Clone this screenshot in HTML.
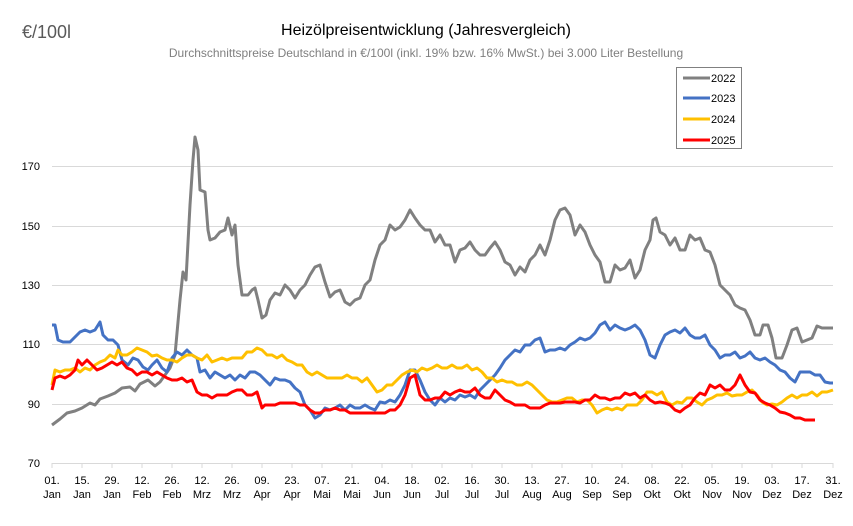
<!DOCTYPE html>
<html><head><meta charset="utf-8"><style>
body{margin:0;background:#fff;}
text{font-family:"Liberation Sans",sans-serif;}
</style></head><body>
<svg width="853" height="521" viewBox="0 0 853 521" xmlns="http://www.w3.org/2000/svg">
<rect width="853" height="521" fill="#fff"/>
<text x="22" y="38" font-size="18" fill="#595959">€/100l</text>
<text x="426" y="35" font-size="16" fill="#000" text-anchor="middle">Heizölpreisentwicklung (Jahresvergleich)</text>
<text x="426" y="57" font-size="12" fill="#7f7f7f" text-anchor="middle">Durchschnittspreise Deutschland in €/100l (inkl. 19% bzw. 16%  MwSt.) bei 3.000 Liter Bestellung</text>
<g stroke="#d9d9d9" stroke-width="1">
<line x1="52" y1="166.5" x2="833" y2="166.5"/>
<line x1="52" y1="226.5" x2="833" y2="226.5"/>
<line x1="52" y1="285.5" x2="833" y2="285.5"/>
<line x1="52" y1="344.5" x2="833" y2="344.5"/>
<line x1="52" y1="404.5" x2="833" y2="404.5"/>
<line x1="52" y1="463.5" x2="833" y2="463.5"/>
</g>
<g stroke="#d9d9d9">
<line x1="52" y1="463" x2="52" y2="468"/><line x1="82" y1="463" x2="82" y2="468"/><line x1="112" y1="463" x2="112" y2="468"/><line x1="142" y1="463" x2="142" y2="468"/><line x1="172" y1="463" x2="172" y2="468"/><line x1="202" y1="463" x2="202" y2="468"/><line x1="232" y1="463" x2="232" y2="468"/><line x1="262" y1="463" x2="262" y2="468"/><line x1="292" y1="463" x2="292" y2="468"/><line x1="322" y1="463" x2="322" y2="468"/><line x1="352" y1="463" x2="352" y2="468"/><line x1="382" y1="463" x2="382" y2="468"/><line x1="412" y1="463" x2="412" y2="468"/><line x1="442" y1="463" x2="442" y2="468"/><line x1="472" y1="463" x2="472" y2="468"/><line x1="502" y1="463" x2="502" y2="468"/><line x1="532" y1="463" x2="532" y2="468"/><line x1="562" y1="463" x2="562" y2="468"/><line x1="592" y1="463" x2="592" y2="468"/><line x1="622" y1="463" x2="622" y2="468"/><line x1="652" y1="463" x2="652" y2="468"/><line x1="682" y1="463" x2="682" y2="468"/><line x1="712" y1="463" x2="712" y2="468"/><line x1="742" y1="463" x2="742" y2="468"/><line x1="772" y1="463" x2="772" y2="468"/><line x1="802" y1="463" x2="802" y2="468"/><line x1="833" y1="463" x2="833" y2="468"/>
</g>
<g font-size="11" fill="#000" text-anchor="end">
<text x="40" y="170">170</text><text x="40" y="230">150</text><text x="40" y="289">130</text><text x="40" y="348">110</text><text x="40" y="408">90</text><text x="40" y="467">70</text>
</g>
<g font-size="11" fill="#000" text-anchor="middle">
<text x="52" y="484">01.</text><text x="52" y="498">Jan</text>
<text x="82" y="484">15.</text><text x="82" y="498">Jan</text>
<text x="112" y="484">29.</text><text x="112" y="498">Jan</text>
<text x="142" y="484">12.</text><text x="142" y="498">Feb</text>
<text x="172" y="484">26.</text><text x="172" y="498">Feb</text>
<text x="202" y="484">12.</text><text x="202" y="498">Mrz</text>
<text x="232" y="484">26.</text><text x="232" y="498">Mrz</text>
<text x="262" y="484">09.</text><text x="262" y="498">Apr</text>
<text x="292" y="484">23.</text><text x="292" y="498">Apr</text>
<text x="322" y="484">07.</text><text x="322" y="498">Mai</text>
<text x="352" y="484">21.</text><text x="352" y="498">Mai</text>
<text x="382" y="484">04.</text><text x="382" y="498">Jun</text>
<text x="412" y="484">18.</text><text x="412" y="498">Jun</text>
<text x="442" y="484">02.</text><text x="442" y="498">Jul</text>
<text x="472" y="484">16.</text><text x="472" y="498">Jul</text>
<text x="502" y="484">30.</text><text x="502" y="498">Jul</text>
<text x="532" y="484">13.</text><text x="532" y="498">Aug</text>
<text x="562" y="484">27.</text><text x="562" y="498">Aug</text>
<text x="592" y="484">10.</text><text x="592" y="498">Sep</text>
<text x="622" y="484">24.</text><text x="622" y="498">Sep</text>
<text x="652" y="484">08.</text><text x="652" y="498">Okt</text>
<text x="682" y="484">22.</text><text x="682" y="498">Okt</text>
<text x="712" y="484">05.</text><text x="712" y="498">Nov</text>
<text x="742" y="484">19.</text><text x="742" y="498">Nov</text>
<text x="772" y="484">03.</text><text x="772" y="498">Dez</text>
<text x="802" y="484">17.</text><text x="802" y="498">Dez</text>
<text x="833" y="484">31.</text><text x="833" y="498">Dez</text>
</g>
<g fill="none" stroke-width="3" stroke-linejoin="round">
<polyline stroke="#808080" points="52,425 60,419 67,413 75,411 82,408 90,403 95,405 100,399 108,396 115,393 122,388 130,387 135,391 140,384 148,380 155,386 160,382 165,375 170,368 175,355 180,300 183,272 186,280 190,205 193,160 195,137 198,150 200,190 205,192 208,230 210,240 215,238 220,232 225,230 228,218 232,235 235,225 238,265 242,295 248,295 252,290 255,288 258,300 262,318 266,315 270,300 275,293 280,295 285,285 290,290 295,298 300,290 305,285 310,275 315,267 320,265 325,282 330,297 335,292 340,290 345,302 350,305 355,300 360,298 365,285 370,280 375,260 380,245 385,240 390,225 395,230 400,227 405,220 410,210 415,218 420,225 425,230 430,230 435,242 440,235 445,245 450,245 455,262 460,250 465,248 470,242 475,250 480,255 485,255 490,248 495,242 500,250 505,262 510,265 515,275 520,267 525,272 530,260 535,255 540,245 545,255 550,240 555,220 560,210 565,208 570,215 575,235 580,225 585,232 590,245 595,255 600,262 605,282 610,282 615,265 620,270 625,268 630,260 635,278 640,270 645,250 650,240 653,220 656,218 660,232 665,235 670,245 675,238 680,250 685,250 690,235 695,240 700,238 705,250 710,252 715,265 720,285 725,290 730,295 735,305 740,308 745,310 750,320 755,335 760,335 763,325 768,325 772,338 776,358 782,358 787,345 792,330 797,328 802,342 807,340 812,338 817,326 822,328 827,328 833,328"/>
<polyline stroke="#4472c4" points="52,325 55,325 58,340 63,342 70,342 75,337 80,332 85,330 90,332 95,330 100,322 103,335 108,340 113,340 118,345 122,360 128,365 133,358 138,360 143,367 148,370 152,365 157,360 162,368 167,372 172,358 177,352 182,355 187,350 192,355 197,358 200,372 205,370 210,378 215,372 220,375 225,378 230,375 235,380 240,375 245,378 250,372 255,372 260,375 265,380 270,385 275,378 280,380 285,380 290,382 295,388 300,392 305,405 310,410 315,418 320,415 325,408 330,410 335,408 340,405 345,410 350,405 355,408 360,408 365,405 370,408 375,410 380,402 385,403 390,400 395,402 400,395 405,385 410,370 415,370 420,380 425,392 430,400 435,405 440,398 445,402 450,398 455,400 460,395 465,397 470,395 475,398 480,390 485,385 490,380 495,375 500,368 505,360 510,355 515,350 520,352 525,345 530,345 535,340 540,338 545,352 550,350 555,350 560,348 565,350 570,345 575,342 580,338 585,340 590,338 595,333 600,325 605,322 610,330 615,325 620,328 625,330 630,328 635,325 640,330 645,340 650,355 655,358 660,345 665,335 670,332 675,330 680,333 685,328 690,335 695,338 700,338 705,335 710,345 715,350 720,358 725,355 730,355 735,352 740,358 745,356 750,352 755,358 760,360 765,358 770,362 775,365 780,370 785,372 790,378 795,382 800,372 805,372 810,372 815,375 820,375 825,382 830,383 833,383"/>
<polyline stroke="#ffc000" points="52,385 55,370 60,372 65,370 70,370 75,368 80,372 85,368 90,370 95,365 100,362 105,360 110,355 115,358 118,350 122,355 127,355 132,352 137,348 142,350 147,352 152,356 157,355 162,358 167,360 172,360 177,362 182,358 187,355 192,355 197,358 202,360 207,355 212,362 217,360 222,358 227,360 232,358 237,358 242,358 247,352 252,352 257,348 262,350 267,355 272,355 277,358 282,355 287,360 292,362 297,365 302,365 307,372 312,375 317,372 322,375 327,378 332,378 337,378 342,378 347,375 352,378 357,378 362,382 367,378 372,385 377,392 382,390 387,385 392,385 397,380 402,375 407,372 412,370 417,372 422,368 427,370 432,368 437,365 442,368 447,368 452,365 457,368 462,368 467,365 472,370 477,368 482,372 487,378 492,378 497,382 502,380 507,382 512,382 517,385 522,385 527,382 532,385 537,390 542,395 547,400 552,402 557,402 562,400 567,398 572,398 577,402 582,400 587,400 592,405 597,413 602,410 607,408 612,410 617,408 622,410 627,405 632,405 637,405 642,400 647,392 652,392 657,395 662,392 667,402 672,405 677,402 682,403 687,398 692,398 697,402 702,405 707,400 712,398 717,395 722,395 727,393 732,396 737,395 742,395 747,392 752,390 757,395 762,402 767,405 772,404 777,405 782,402 787,398 792,395 797,398 802,395 807,395 812,392 817,396 822,392 827,392 833,390"/>
<polyline stroke="#ff0000" points="52,390 55,378 60,376 65,378 70,375 75,370 78,360 82,365 87,360 92,365 97,370 102,368 107,365 112,362 117,365 122,362 127,368 132,370 137,375 142,372 147,372 152,375 157,372 162,375 167,378 172,380 177,380 182,378 187,382 192,380 197,392 202,395 207,395 212,398 217,395 222,395 227,395 232,392 237,390 242,390 247,395 252,395 257,392 262,408 265,405 270,405 275,405 280,403 285,403 290,403 295,403 300,405 305,405 310,410 315,413 320,413 325,410 330,410 335,408 340,410 345,410 350,413 355,413 360,413 365,413 370,413 375,413 380,413 385,413 390,410 395,410 400,405 405,395 410,378 415,375 420,395 425,400 430,400 435,398 440,398 445,392 450,395 455,392 460,390 465,392 470,392 475,388 480,395 485,398 490,398 495,390 500,395 505,400 510,402 515,405 520,405 525,405 530,408 535,408 540,408 545,405 550,403 555,403 560,403 565,402 570,402 575,402 580,403 585,400 590,400 595,395 600,398 605,398 610,400 615,398 620,398 625,393 630,395 635,393 640,398 645,395 650,400 655,403 660,402 665,403 670,405 675,410 680,412 685,408 690,405 695,398 700,393 705,395 710,385 715,388 720,385 725,390 730,390 735,385 740,375 745,385 750,392 755,393 760,400 765,403 770,405 775,408 780,412 785,413 790,415 795,418 800,418 805,420 810,420 815,420"/>
</g>
<rect x="676.5" y="67.5" width="65" height="81" fill="#fff" stroke="#808080"/>
<g stroke-width="3">
<line x1="683" y1="78" x2="710" y2="78" stroke="#808080"/>
<line x1="683" y1="98" x2="710" y2="98" stroke="#4472c4"/>
<line x1="683" y1="119" x2="710" y2="119" stroke="#ffc000"/>
<line x1="683" y1="140" x2="710" y2="140" stroke="#ff0000"/>
</g>
<g font-size="11" fill="#000">
<text x="711" y="82">2022</text><text x="711" y="102">2023</text><text x="711" y="123">2024</text><text x="711" y="144">2025</text>
</g>
</svg>
</body></html>
